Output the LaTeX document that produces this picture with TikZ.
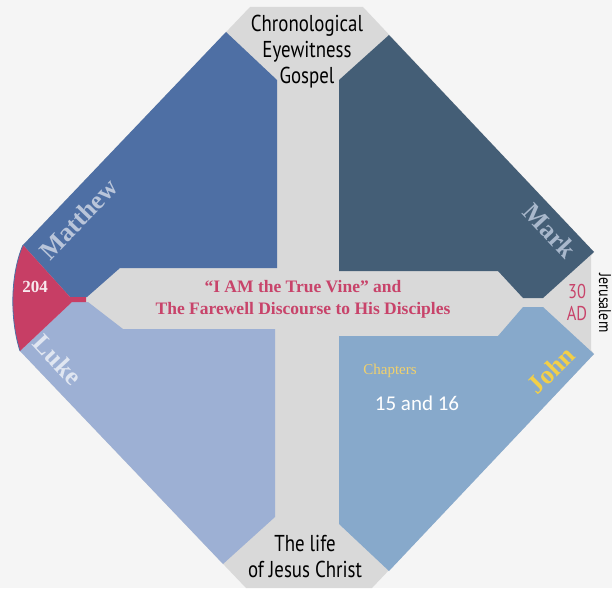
\documentclass[tikz,border=0pt]{standalone}
\usepackage{fontspec}
\setmainfont{Liberation Serif}
\newfontfamily\capfont[FakeStretch=0.82]{PT Sans}
\newfontfamily\numfont{Carlito}
\definecolor{bgpage}{HTML}{F5F5F5}
\definecolor{crossgray}{HTML}{D9D9D9}
\definecolor{matthewblue}{HTML}{4E6FA4}
\definecolor{markblue}{HTML}{445E76}
\definecolor{lukeblue}{HTML}{9DB0D4}
\definecolor{johnblue}{HTML}{87A9CB}
\definecolor{wedgered}{HTML}{C73E65}
\definecolor{vinered}{HTML}{C8436A}
\definecolor{johngold}{HTML}{F2CF48}
\tikzset{
    gospel/.style={font=\bfseries\fontsize{26}{28}\selectfont},
    head/.style={align=center, font=\capfont\fontsize{23}{26}\selectfont},
}

\begin{document}
\begin{tikzpicture}[x=1pt, y=-1pt]
        \fill[bgpage] (0, 0) rectangle (612, 588);
        \useasboundingbox (0, 0) rectangle (612, 588);
        \fill[crossgray] (250, 7) -- (363, 7) -- (594, 252) -- (591, 256) -- (591, 350) -- (594, 354) -- (372, 588) -- (246, 588) -- (20, 351) -- (23, 245) -- cycle;
        \fill[matthewblue] (226, 32) -- (277, 80) -- (277, 268) -- (120, 268) -- (87, 297) -- (70, 297) -- (23, 245) -- cycle;
        \fill[markblue] (389, 35) -- (339, 80) -- (339, 271) -- (498, 271) -- (523, 298) -- (543, 298) -- (594, 252) -- cycle;
        \fill[lukeblue] (20, 351) -- (72, 302) -- (88, 302) -- (123, 329) -- (275, 329) -- (275, 517) -- (223, 564) -- cycle;
        \fill[johnblue] (339, 336) -- (498, 336) -- (523, 307) -- (543, 307) -- (594, 354) -- (389, 571) -- (339, 524) -- cycle;
        \fill[wedgered] (23, 245) -- (70, 297) -- (86, 297) -- (86, 302) -- (72, 302) -- (20, 351) .. controls (10, 320) and (10, 275) .. (23, 245) -- cycle;
        \draw[matthewblue, line width=0.8pt] (20, 351) .. controls (10, 320) and (10, 275) .. (23, 245);
        \node[head] (chrono) at (307, 52) {Chronological\\Eyewitness\\Gospel};
        \node[head] (life) at (305, 556) {The life\\of Jesus Christ};
        \node[align=center, text=vinered, font=\bfseries\fontsize{17.5}{22}\selectfont] (vine) at (303, 299) {“I AM the True Vine” and\\The Farewell Discourse to His Disciples};
        \node[gospel, text={rgb,255:red,185;green,197;blue,218}, rotate=46] (matthew) at (79, 219) {Matthew};
        \node[gospel, text={rgb,255:red,169;green,184;blue,204}, rotate=-47] (mark) at (550, 231) {Mark};
        \node[gospel, text={rgb,255:red,224;green,230;blue,241}, rotate=-47] (luke) at (58, 360) {Luke};
        \node[gospel, text=johngold, rotate=45] (john) at (551, 370) {John};
        \node[text={rgb,255:red,248;green,232;blue,238}, font=\bfseries\fontsize{17}{20}\selectfont] (year) at (35, 287) {204};
        \node[text={rgb,255:red,242;green,209;blue,107}, font=\fontsize{15}{18}\selectfont] (chapters) at (390, 371) {Chapters};
        \node[text=white, font=\numfont\fontsize{21}{24}\selectfont] (chapnum) at (417, 403) {15 and 16};
        \node[align=center, text=vinered, font=\capfont\fontsize{20}{22}\selectfont] (date) at (577, 302) {30\\AD};
        \node[rotate=-90, font=\capfont\fontsize{17}{20}\selectfont] (city) at (605, 303) {Jerusalem};
    \end{tikzpicture}
\end{document}
